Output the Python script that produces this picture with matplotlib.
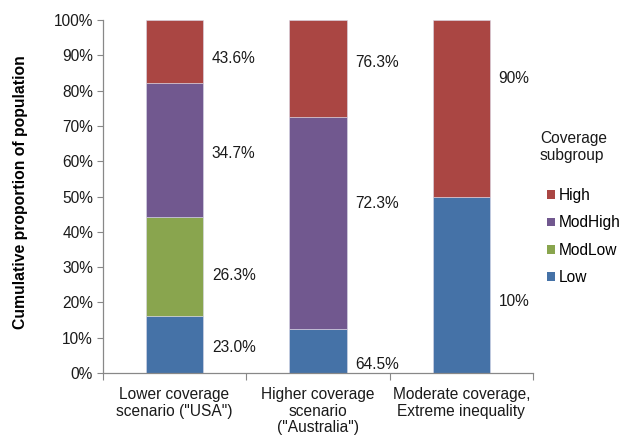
import numpy as np
import matplotlib.pyplot as plt
from matplotlib.patches import Patch
from matplotlib.ticker import FixedLocator, PercentFormatter

plt.rcParams['font.family'] = ['Liberation Sans', 'DejaVu Sans']

# scenarios along the x axis
scenarios = ['Lower coverage\nscenario ("USA")',
             'Higher coverage\nscenario\n("Australia")',
             'Moderate coverage,\nExtreme inequality']

# share of population in each coverage subgroup (%), per scenario
subgroups = ['Low', 'ModLow', 'ModHigh', 'High']
low = [16.1, 12.4, 50.0]
modlow = [28.2, 0.0, 0.0]
modhigh = [37.9, 60.2, 0.0]
high = [17.8, 27.4, 50.0]

# coverage within each subgroup (text beside the bars)
cov_text = [['23.0%', '26.3%', '34.7%', '43.6%'],
            ['64.5%', None, '72.3%', '76.3%'],
            ['10%', None, None, '90%']]
# vertical placement of that text (axis %)
cov_y = [[7.2, 27.7, 62.3, 89.2],
         [2.3, None, 48.0, 88.0],
         [20.2, None, None, 83.3]]

colors = {'Low': '#4572A7', 'ModLow': '#89A54E',
          'ModHigh': '#71588F', 'High': '#AA4643'}

FS = 11.2

fig = plt.figure(figsize=(6.27, 4.36), dpi=100)
ax = fig.add_axes([0.164, 0.1445, 0.686, 0.8095])

x = np.arange(len(scenarios))
width = 0.4
bottom = np.zeros(len(scenarios))
for name, vals in zip(subgroups, [low, modlow, modhigh, high]):
    vals = np.array(vals)
    ax.bar(x, vals, width, bottom=bottom, color=colors[name],
           edgecolor='#d8d8e8', linewidth=0.4, zorder=2)
    bottom += vals

for i in range(len(scenarios)):
    for txt, yy in zip(cov_text[i], cov_y[i]):
        if txt is None:
            continue
        ax.text(x[i] + width / 2 + 0.06, yy, txt, fontsize=FS,
                va='center', ha='left', color='#1a1a1a')

ax.set_xlim(-0.5, len(scenarios) - 0.5)
ax.set_ylim(0, 100)
ax.yaxis.set_major_locator(FixedLocator(np.arange(0, 101, 10)))
ax.yaxis.set_major_formatter(PercentFormatter(decimals=0))
ax.tick_params(axis='y', labelsize=FS, length=4, pad=3, color='#888888',
               labelcolor='#1a1a1a')

# category separators as major ticks, names centred as minor ticks
ax.set_xticks(np.arange(len(scenarios) + 1) - 0.5)
ax.set_xticklabels([])
ax.set_xticks(x, minor=True)
ax.set_xticklabels(scenarios, minor=True, fontsize=FS, color='#1a1a1a',
                   linespacing=1.15)
ax.tick_params(axis='x', which='major', length=5, color='#888888')
ax.tick_params(axis='x', which='minor', length=0, pad=10)

for side in ['top', 'right']:
    ax.spines[side].set_visible(False)
for side in ['left', 'bottom']:
    ax.spines[side].set_color('#888888')
    ax.spines[side].set_linewidth(0.9)

ax.set_ylabel('Cumulative proportion of population', fontsize=11.3,
              fontweight='bold')
ax.yaxis.set_label_coords(-0.175, 0.513)

# legend: title set as plain text, entries indented below it
fig.text(0.861, 0.70, 'Coverage\nsubgroup', fontsize=FS, va='top',
         ha='left', linespacing=1.2, color='#1a1a1a')
handles = [Patch(facecolor=colors[n], edgecolor='none') for n in subgroups[::-1]]
fig.legend(handles, subgroups[::-1], loc='upper left',
           bbox_to_anchor=(0.872, 0.568), frameon=False, fontsize=FS,
           handlelength=0.5, handleheight=0.5, handletextpad=0.25,
           labelspacing=0.78, borderpad=0, borderaxespad=0)

fig.savefig('out.png', dpi=100)
